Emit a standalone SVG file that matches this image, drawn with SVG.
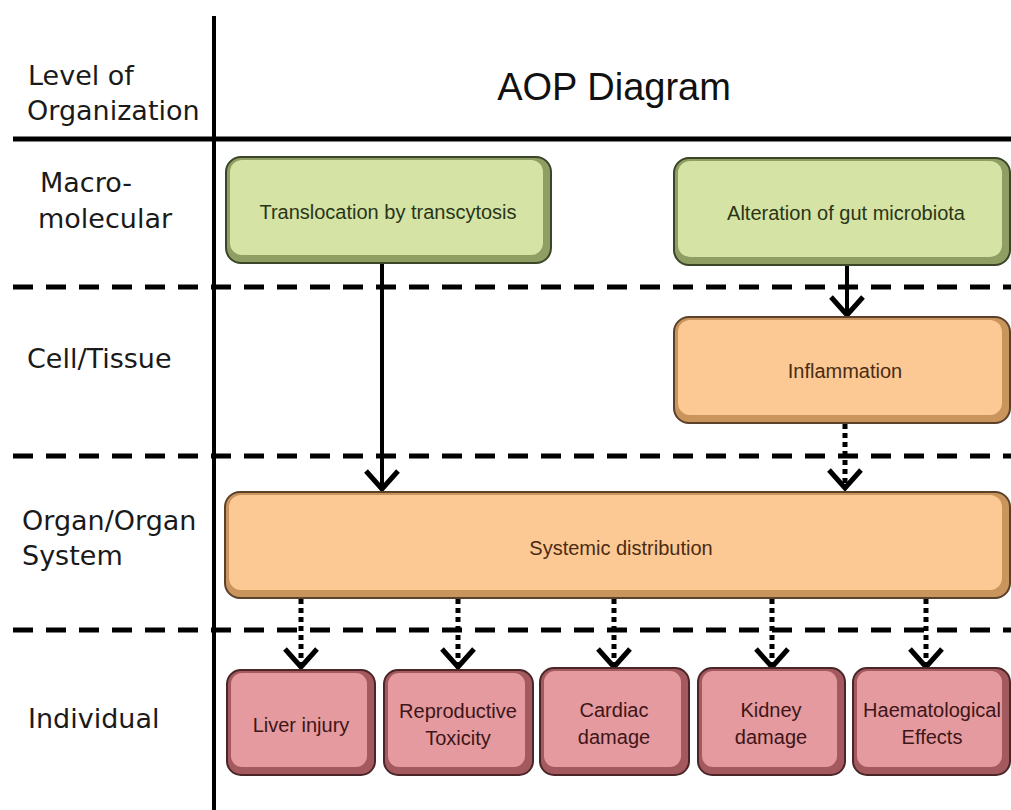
<svg xmlns="http://www.w3.org/2000/svg" width="1011" height="810" viewBox="0 0 1011 810">
<defs>
<marker id="chev" viewBox="0 0 24 36" markerWidth="24" markerHeight="36" refX="21" refY="18" orient="auto" markerUnits="userSpaceOnUse">
<path d="M3,2 L21,18 L3,34" fill="none" stroke="#000" stroke-width="5"/>
</marker>
<style>
.lbl{font-family:"DejaVu Sans",Verdana,sans-serif;font-size:27px;fill:#1a1a1a}
.nt{font-family:"Liberation Sans",Arial,sans-serif;font-size:20px;text-anchor:middle}
.g .o{fill:#8f9e62;stroke:#3b4528;stroke-width:2}
.g .i{fill:#d5e3a5}
.g text{fill:#2a3518}
.p .o{fill:#c9955d;stroke:#5b4129;stroke-width:2}
.p .i{fill:#fcc893}
.p text{fill:#4a2c14}
.r .o{fill:#a4595e;stroke:#4a2629;stroke-width:2}
.r .i{fill:#e49a9e}
.r text{fill:#3e1518}
.dash{stroke:#000;stroke-width:5;stroke-dasharray:20 13;fill:none}
.sol{stroke:#000;stroke-width:4;fill:none}
.dot{stroke:#000;stroke-width:5;stroke-dasharray:5 4;fill:none}
</style>
</defs>
<rect width="1011" height="810" fill="#fff"/>
<g id="grid">
<line x1="214" y1="16" x2="214" y2="810" stroke="#000" stroke-width="4"/>
<line x1="13" y1="139" x2="1011" y2="139" stroke="#000" stroke-width="5"/>
<line class="dash" x1="13" y1="287" x2="1011" y2="287"/>
<line class="dash" x1="13" y1="456" x2="1011" y2="456"/>
<line class="dash" x1="13" y1="630" x2="1011" y2="630"/>
</g>
<g id="labels">
<text class="lbl" x="28" y="85">Level of</text>
<text class="lbl" x="27" y="120">Organization</text>
<text class="lbl" x="40" y="192">Macro-</text>
<text class="lbl" x="38" y="228">molecular</text>
<text class="lbl" x="27" y="368">Cell/Tissue</text>
<text class="lbl" x="22" y="530">Organ/Organ</text>
<text class="lbl" x="22" y="565">System</text>
<text class="lbl" x="28" y="728">Individual</text>
<text x="614" y="100" text-anchor="middle" font-family="Liberation Sans, Arial, sans-serif" font-size="38" fill="#111">AOP Diagram</text>
</g>
<g id="connectors">
<line class="sol" x1="382" y1="263" x2="382" y2="489" marker-end="url(#chev)"/>
<line class="sol" x1="847" y1="265" x2="847" y2="315" marker-end="url(#chev)"/>
<line class="dot" x1="845" y1="424" x2="845" y2="488" marker-end="url(#chev)"/>
<line class="dot" x1="301" y1="599" x2="301" y2="667" marker-end="url(#chev)"/>
<line class="dot" x1="458" y1="599" x2="458" y2="667" marker-end="url(#chev)"/>
<line class="dot" x1="614" y1="599" x2="614" y2="667" marker-end="url(#chev)"/>
<line class="dot" x1="772" y1="599" x2="772" y2="667" marker-end="url(#chev)"/>
<line class="dot" x1="926" y1="599" x2="926" y2="667" marker-end="url(#chev)"/>
</g>
<g id="n1" class="g">
<rect class="o" x="226" y="157" width="325" height="106" rx="15"/>
<rect class="i" x="230" y="160" width="313" height="95" rx="12"/>
<text class="nt" x="388" y="219">Translocation by transcytosis</text>
</g>
<g id="n2" class="g">
<rect class="o" x="674" y="158" width="336" height="107" rx="15"/>
<rect class="i" x="678" y="161" width="324" height="96" rx="12"/>
<text class="nt" x="846" y="220">Alteration of gut microbiota</text>
</g>
<g id="n3" class="p">
<rect class="o" x="674" y="317" width="336" height="106" rx="15"/>
<rect class="i" x="678" y="320" width="324" height="95" rx="12"/>
<text class="nt" x="845" y="378">Inflammation</text>
</g>
<g id="n4" class="p">
<rect class="o" x="225" y="492" width="785" height="106" rx="15"/>
<rect class="i" x="229" y="495" width="773" height="95" rx="12"/>
<text class="nt" x="621" y="555">Systemic distribution</text>
</g>
<g id="n5" class="r">
<rect class="o" x="227" y="670" width="148" height="105" rx="14"/>
<rect class="i" x="231" y="673" width="136" height="94" rx="11"/>
<text class="nt" x="301" y="732">Liver injury</text>
</g>
<g id="n6" class="r">
<rect class="o" x="384" y="670" width="149" height="105" rx="14"/>
<rect class="i" x="388" y="673" width="137" height="94" rx="11"/>
<text class="nt" x="458" y="718">Reproductive</text>
<text class="nt" x="458" y="745">Toxicity</text>
</g>
<g id="n7" class="r">
<rect class="o" x="540" y="668" width="149" height="107" rx="14"/>
<rect class="i" x="544" y="671" width="137" height="96" rx="11"/>
<text class="nt" x="614" y="717">Cardiac</text>
<text class="nt" x="614" y="744">damage</text>
</g>
<g id="n8" class="r">
<rect class="o" x="698" y="668" width="147" height="107" rx="14"/>
<rect class="i" x="702" y="671" width="135" height="96" rx="11"/>
<text class="nt" x="771" y="717">Kidney</text>
<text class="nt" x="771" y="744">damage</text>
</g>
<g id="n9" class="r">
<rect class="o" x="853" y="668" width="157" height="107" rx="14"/>
<rect class="i" x="857" y="671" width="145" height="96" rx="11"/>
<text class="nt" x="932" y="717">Haematological</text>
<text class="nt" x="932" y="744">Effects</text>
</g>
</svg>
